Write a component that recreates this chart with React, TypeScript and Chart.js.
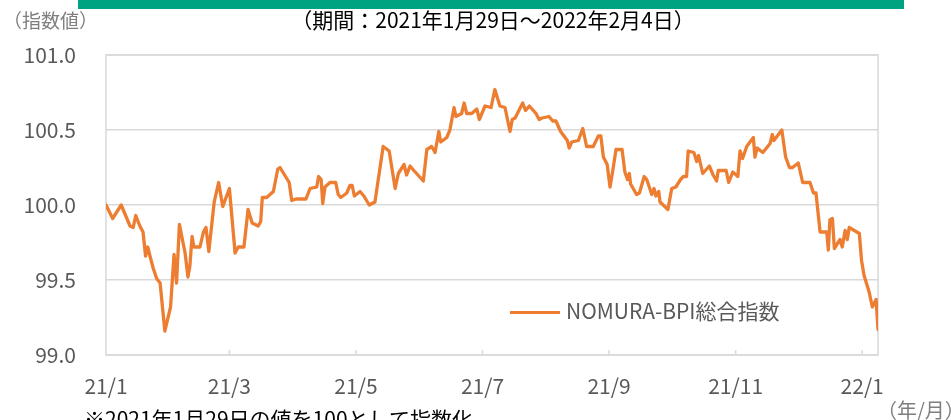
import React, { useEffect, useRef } from "react";
import { Chart, registerables } from "chart.js";

Chart.register(...registerables);

// Trading-day position (0 = 2021/1/29, 244 = 2022/2/4) of each turning point of the series
const TRADING_DAY = [
  0, 2.1, 4.8, 7.6, 8.6, 9.4, 10.7, 11.7, 12.5, 13.2, 13.9, 14.9, 16.0, 17.1, 18.6, 20.4, 21.5, 22.3, 23.2,
  25.0, 25.9, 26.5, 27.2, 27.8, 29.7, 30.8, 31.6, 32.5, 34.2, 35.6, 36.9, 39.0, 40.8, 41.8, 43.6, 44.9,
  46.2, 48.1, 48.9, 49.4, 50.8, 52.9, 54.3, 55.0, 57.9, 58.7, 60.1, 63.2, 64.5, 66.6, 67.2, 68.0, 68.5,
  69.2, 70.8, 72.6, 73.4, 74.2, 76.1, 77.1, 77.8, 78.5, 80.3, 81.5, 83.2, 85.0, 87.6, 89.5, 91.4, 92.4,
  94.2, 95.0, 96.1, 97.3, 100.3, 101.4, 102.9, 104.0, 105.2, 105.8, 107.7, 108.7, 110.0, 110.6, 112.4,
  113.2, 114.0, 115.6, 117.2, 118.0, 119.8, 121.7, 122.9, 124.5, 126.1, 127.7, 128.4, 129.3, 131.7,
  132.6, 133.8, 135.9, 136.9, 137.8, 140.0, 141.2, 142.2, 143.7, 145.1, 145.8, 146.4, 147.2, 149.3,
  150.7, 151.9, 154.0, 155.6, 156.4, 157.2, 158.4, 159.3, 160.1, 161.2, 163.1, 164.0, 164.8, 165.4,
  165.8, 167.7, 168.6, 170.1, 170.9, 172.5, 173.2, 173.8, 174.7, 175.1, 176.1, 177.6, 178.8, 180.1,
  181.6, 182.5, 183.5, 184.0, 185.8, 186.7, 187.3, 188.6, 190.7, 191.9, 193.0, 193.5, 196.0, 196.8,
  198.1, 199.7, 200.4, 201.2, 202.5, 204.6, 205.1, 205.8, 207.6, 209.9, 210.6, 211.1, 213.6, 214.8,
  216.0, 217.0, 218.8, 220.2, 222.5, 223.6, 224.4, 225.7, 227.8, 228.3, 228.8, 229.6, 230.2, 232.0,
  232.7, 233.6, 234.3, 234.9, 238.1, 238.8, 239.6, 241.2, 242.2, 243.4, 244.0,
];

const INDEX_VALUE = [
  100.0, 99.91, 100.0, 99.86, 99.85, 99.93, 99.86, 99.82, 99.66, 99.72, 99.66, 99.58, 99.51, 99.48, 99.16,
  99.32, 99.67, 99.48, 99.87, 99.68, 99.52, 99.59, 99.79, 99.72, 99.72, 99.82, 99.85, 99.69, 100.02, 100.15,
  99.99, 100.11, 99.68, 99.72, 99.72, 99.97, 99.88, 99.86, 99.89, 100.05, 100.05, 100.09, 100.24, 100.25,
  100.15, 100.03, 100.04, 100.04, 100.11, 100.12, 100.19, 100.17, 100.01, 100.12, 100.15, 100.15, 100.07,
  100.05, 100.08, 100.13, 100.13, 100.06, 100.09, 100.06, 100.0, 100.02, 100.39, 100.36, 100.11, 100.21,
  100.27, 100.2, 100.26, 100.23, 100.16, 100.37, 100.39, 100.35, 100.49, 100.42, 100.45, 100.5, 100.65,
  100.59, 100.61, 100.68, 100.61, 100.61, 100.64, 100.57, 100.66, 100.65, 100.77, 100.66, 100.65, 100.49,
  100.57, 100.58, 100.68, 100.63, 100.66, 100.61, 100.57, 100.58, 100.59, 100.56, 100.56, 100.49, 100.45,
  100.43, 100.38, 100.42, 100.43, 100.51, 100.39, 100.39, 100.46, 100.46, 100.32, 100.27, 100.12, 100.22,
  100.37, 100.37, 100.22, 100.17, 100.21, 100.14, 100.07, 100.08, 100.19, 100.17, 100.07, 100.11, 100.06,
  100.09, 100.02, 100.0, 99.97, 100.11, 100.12, 100.17, 100.19, 100.19, 100.36, 100.35, 100.29, 100.33,
  100.21, 100.26, 100.2, 100.16, 100.23, 100.23, 100.15, 100.22, 100.19, 100.36, 100.31, 100.39, 100.45,
  100.32, 100.38, 100.35, 100.41, 100.47, 100.43, 100.5, 100.32, 100.25, 100.25, 100.28, 100.15, 100.15,
  100.08, 100.08, 99.82, 99.82, 99.7, 99.9, 99.91, 99.71, 99.77, 99.72, 99.83, 99.77, 99.85, 99.81, 99.63,
  99.53, 99.42, 99.32, 99.37, 99.17,
];

const TICK_DAYS = [0, 39, 79, 119, 159, 199, 239];
const TICK_LABELS = ["21/1", "21/3", "21/5", "21/7", "21/9", "21/11", "22/1"];
const X_MIN = 0;
const X_MAX = 244;
const Y_MIN = 99;
const Y_MAX = 101;
const Y_STEP = 0.5;
const SERIES_NAME = "NOMURA-BPI総合指数";
const TITLE = "（期間：2021年1月29日～2022年2月4日）";
const Y_UNIT = "（指数値）";
const X_UNIT = "（年/月）";
const NOTE = "※2021年1月29日の値を100として指数化";

const FONT = "'Noto Sans CJK JP', 'Noto Sans', sans-serif";
const LINE_COLOR = "#ED7D31";
const GRID_COLOR = "#d9d9d9";
const TICK_COLOR = "#595959";

export default function App() {
  const ref = useRef<HTMLCanvasElement | null>(null);

  useEffect(() => {
    if (!ref.current) return;
    const frame = {
      id: "frame",
      beforeDatasetsDraw(chart: any) {
        const { ctx, chartArea } = chart;
        const xs = chart.scales.x;
        ctx.save();
        ctx.strokeStyle = GRID_COLOR;
        ctx.lineWidth = 1.5;
        ctx.strokeRect(chartArea.left, chartArea.top, chartArea.right - chartArea.left, chartArea.bottom - chartArea.top);
        ctx.beginPath();
        TICK_DAYS.forEach((d, i) => {
          if (i === 0) return;
          const px = xs.getPixelForValue(d);
          ctx.moveTo(px, chartArea.bottom);
          ctx.lineTo(px, chartArea.bottom - 5);
        });
        ctx.stroke();
        ctx.restore();
      },
    };
    const chart = new Chart(ref.current, {
      type: "line",
      data: {
        datasets: [
          {
            label: SERIES_NAME,
            data: TRADING_DAY.map((x, i) => ({ x, y: INDEX_VALUE[i] })),
            borderColor: LINE_COLOR,
            backgroundColor: LINE_COLOR,
            borderWidth: 3.3,
            pointRadius: 0,
            tension: 0,
            borderJoinStyle: "round",
            borderCapStyle: "round",
          },
        ],
      },
      options: {
        responsive: false,
        animation: false,
        layout: { padding: { left: 0, right: 73, top: 55, bottom: 0 } },
        plugins: { legend: { display: false }, tooltip: { enabled: false } },
        scales: {
          x: {
            type: "linear",
            min: X_MIN,
            max: X_MAX,
            afterBuildTicks: (s: any) => {
              s.ticks = TICK_DAYS.map((v) => ({ value: v }));
            },
            ticks: {
              autoSkip: false,
              maxRotation: 0,
              padding: 18,
              color: TICK_COLOR,
              font: { family: FONT, size: 21 },
              callback: (v: any) => {
                const i = TICK_DAYS.indexOf(Number(v));
                return i >= 0 ? TICK_LABELS[i] : "";
              },
            },
            grid: { display: false, drawTicks: false },
            border: { display: false },
            afterFit: (s: any) => {
              s.height = 65;
            },
          },
          y: {
            min: Y_MIN,
            max: Y_MAX,
            ticks: {
              stepSize: Y_STEP,
              padding: 30,
              color: TICK_COLOR,
              font: { family: FONT, size: 21 },
              callback: (v: any) => Number(v).toFixed(1),
            },
            grid: { color: GRID_COLOR, lineWidth: 1.5, drawTicks: false },
            border: { display: false },
            afterFit: (s: any) => {
              s.width = 106;
            },
          },
        },
      },
      plugins: [frame],
    } as any);
    return () => chart.destroy();
  }, []);

  const text = (style: React.CSSProperties): React.CSSProperties => ({
    position: "absolute",
    fontFamily: FONT,
    whiteSpace: "nowrap",
    lineHeight: 1,
    ...style,
  });

  return (
    <div style={{ position: "absolute", left: 0, top: 0, width: 951, height: 420, overflow: "hidden", background: "#fff" }}>
      <div style={{ position: "absolute", left: 78, top: 0, width: 826, height: 9, background: "#00A381" }} />
      <canvas ref={ref} width={951} height={420} style={{ position: "absolute", left: 0, top: 0 }} />
      <div style={text({ left: 3, top: 10, fontSize: 19, color: "#7f7f7f" })}>{Y_UNIT}</div>
      <div style={text({ left: 0, width: 986, top: 9, fontSize: 21, color: "#000", textAlign: "center" })}>{TITLE}</div>
      <div style={text({ left: 877, top: 400, fontSize: 20, color: "#7f7f7f" })}>{X_UNIT}</div>
      <div style={text({ left: 84, top: 408, fontSize: 21, color: "#000" })}>{NOTE}</div>
      <div style={{ position: "absolute", left: 510, top: 311, width: 50, height: 3.3, background: LINE_COLOR }} />
      <div style={text({ left: 566, top: 300, fontSize: 21, color: TICK_COLOR })}>{SERIES_NAME}</div>
    </div>
  );
}
